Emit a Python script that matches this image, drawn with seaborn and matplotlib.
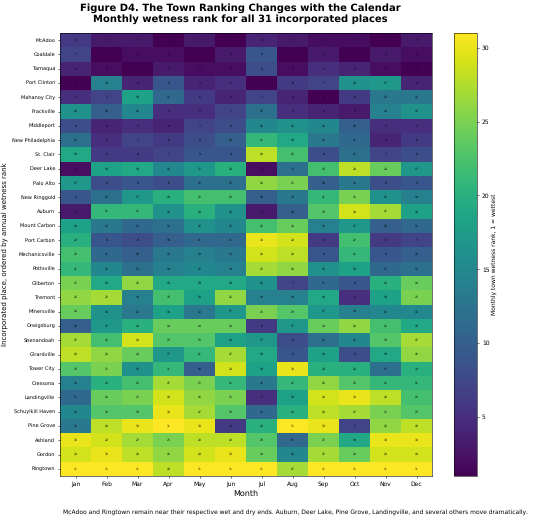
import pandas as pd
import matplotlib
matplotlib.use("Agg")
import matplotlib.pyplot as plt
import seaborn as sns

plt.rcParams["text.hinting"] = "no_hinting"
plt.rcParams["text.hinting_factor"] = 1

months = ["Jan", "Feb", "Mar", "Apr", "May", "Jun", "Jul", "Aug", "Sep", "Oct", "Nov", "Dec"]

places = ["McAdoo", "Coaldale", "Tamaqua", "Port Clinton", "Mahanoy City", "Frackville",
          "Middleport", "New Philadelphia", "St. Clair", "Deer Lake", "Palo Alto",
          "New Ringgold", "Auburn", "Mount Carbon", "Port Carbon", "Mechanicsville",
          "Pottsville", "Gilberton", "Tremont", "Minersville", "Orwigsburg", "Shenandoah",
          "Girardville", "Tower City", "Cressona", "Landingville", "Schuylkill Haven",
          "Pine Grove", "Ashland", "Gordon", "Ringtown"]

# Rank of each place, one list per month, same order as places
jan = [6, 7, 4, 1, 5, 16, 8, 12, 19, 2, 17, 9, 3, 18, 20, 22, 21, 25, 26, 24, 10, 27, 28, 23, 14, 11, 15, 13, 30, 29, 31]
feb = [3, 1, 2, 14, 7, 10, 4, 5, 6, 18, 8, 12, 21, 13, 9, 11, 15, 19, 27, 16, 17, 22, 26, 25, 20, 24, 23, 28, 29, 30, 31]
mar = [3, 2, 1, 4, 18, 15, 5, 7, 6, 19, 9, 17, 21, 11, 8, 10, 12, 26, 14, 13, 20, 29, 24, 16, 22, 25, 23, 30, 27, 28, 31]
apr = [1, 2, 3, 9, 11, 5, 4, 6, 7, 15, 8, 20, 16, 12, 10, 13, 14, 19, 22, 18, 24, 23, 17, 21, 27, 29, 30, 31, 25, 26, 28]
may = [3, 1, 2, 4, 6, 5, 7, 8, 9, 17, 12, 22, 20, 16, 11, 14, 15, 19, 18, 13, 24, 23, 21, 10, 25, 26, 27, 30, 28, 29, 31]
jun = [1, 3, 2, 5, 4, 7, 8, 10, 9, 20, 12, 22, 16, 15, 11, 13, 14, 19, 26, 17, 24, 18, 27, 29, 21, 25, 23, 6, 28, 30, 31]
jul = [4, 9, 8, 1, 7, 12, 15, 21, 28, 2, 26, 10, 3, 22, 30, 29, 27, 16, 14, 25, 6, 17, 19, 18, 13, 5, 11, 20, 23, 24, 31]
aug = [3, 1, 2, 6, 4, 5, 16, 19, 22, 12, 25, 13, 10, 24, 29, 28, 26, 7, 14, 23, 17, 8, 9, 30, 21, 18, 20, 31, 11, 15, 27]
sep = [2, 3, 5, 7, 1, 4, 15, 13, 8, 22, 10, 21, 23, 14, 6, 9, 16, 11, 19, 17, 24, 12, 18, 20, 26, 29, 28, 30, 25, 27, 31]
oct_ = [2, 1, 4, 16, 6, 3, 10, 11, 12, 28, 13, 25, 29, 17, 22, 21, 18, 9, 5, 14, 26, 15, 8, 20, 23, 30, 27, 7, 19, 24, 31]
nov = [1, 3, 2, 17, 13, 14, 5, 4, 7, 24, 8, 16, 27, 10, 6, 9, 11, 20, 18, 15, 22, 23, 19, 12, 21, 28, 25, 26, 30, 29, 31]
dec = [3, 2, 1, 4, 13, 16, 5, 6, 8, 17, 9, 14, 18, 11, 7, 10, 12, 24, 25, 15, 19, 27, 26, 20, 21, 22, 23, 28, 30, 29, 31]

df = pd.DataFrame(dict(zip(months, [jan, feb, mar, apr, may, jun, jul, aug, sep, oct_, nov, dec])), index=places)

fig = plt.figure(figsize=(5.35, 5.2), dpi=100)
ax = fig.add_axes([60 / 535, 1 - 476 / 520, 372 / 535, 443 / 520])
cax = fig.add_axes([454 / 535, 1 - 476 / 520, 23 / 535, 443 / 520])

sns.heatmap(df, cmap="viridis", vmin=1, vmax=31, annot=True, fmt="d",
            annot_kws={"fontsize": 2.4, "color": "black"},
            xticklabels=True, yticklabels=True,
            ax=ax, cbar_ax=cax, cbar_kws={"ticks": [5, 10, 15, 20, 25, 30]})

ax.set_xlabel("Month", fontsize=5.8, labelpad=2)
ax.set_ylabel("Incorporated place, ordered by annual wetness rank", fontsize=5.2, labelpad=3)
ax.tick_params(axis="x", labelsize=4.4, length=1.5, width=0.4, pad=2, rotation=0)
ax.tick_params(axis="y", labelsize=3.4, length=1.5, width=0.4, pad=2, rotation=0)
for spine in ax.spines.values():
    spine.set_visible(True)
    spine.set_linewidth(0.4)

cbar = ax.collections[0].colorbar
cbar.ax.tick_params(labelsize=4.2, length=1.5, width=0.4, pad=2)
cbar.set_label("Monthly town wetness rank, 1 = wettest", fontsize=4.4, labelpad=1)
cbar.outline.set_visible(True)
cbar.outline.set_linewidth(0.4)

fig.text(240 / 535, 0.9935, "Figure D4. The Town Ranking Changes with the Calendar\nMonthly wetness rank for all 31 incorporated places",
         ha="center", va="top", fontsize=7.2, fontweight="bold", linespacing=1.2)
fig.text(63 / 535, 1 - 512 / 520, "McAdoo and Ringtown remain near their respective wet and dry ends. "
         "Auburn, Deer Lake, Pine Grove, Landingville, and several others move dramatically.",
         ha="left", va="center", fontsize=4.25)

fig.savefig("out.png", dpi=100)
